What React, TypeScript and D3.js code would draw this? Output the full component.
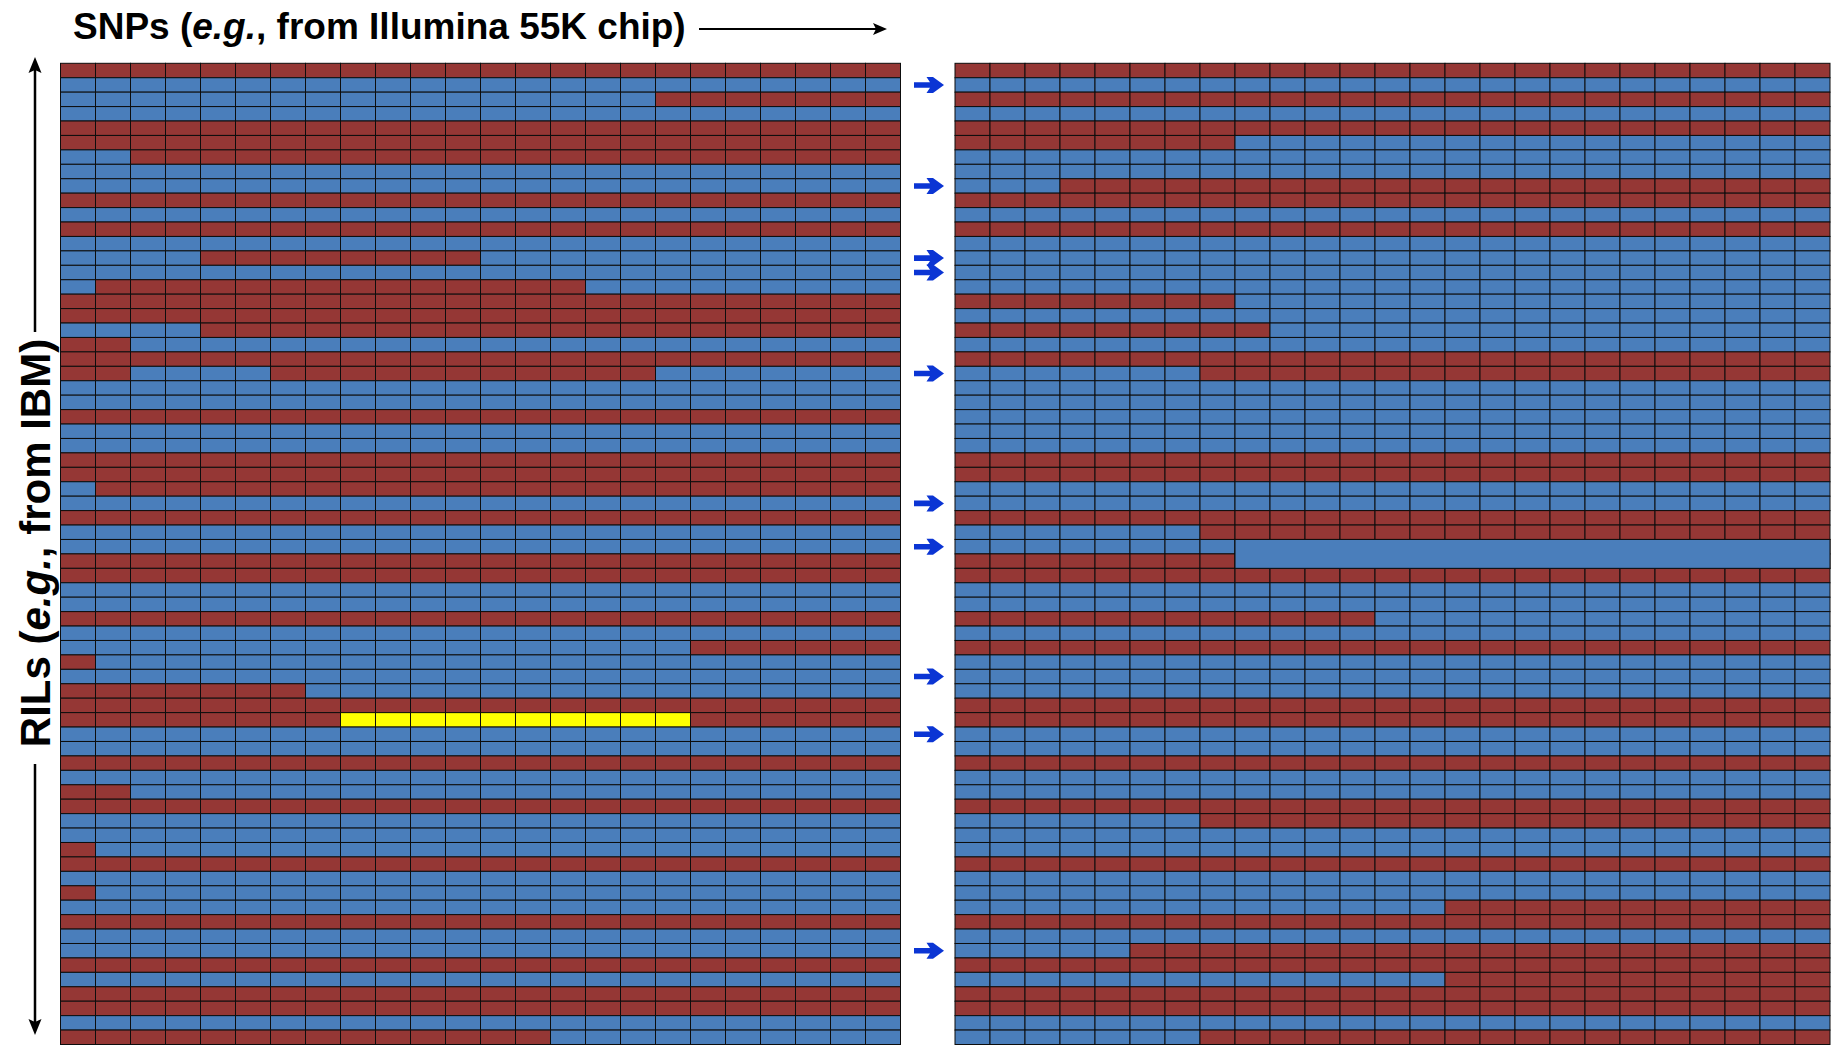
import React from "react";
import * as d3 from "d3";

// Genotype rows, run-length encoded: R = parent A (red), B = parent B (blue), Y = highlighted (yellow)
const leftRows: string[] = [
  "R24", "B24", "B17 R7", "B24", "R24", "R24", "B2 R22", "B24", "B24", "R24",
  "B24", "R24", "B24", "B4 R8 B12", "B24", "B1 R14 B9", "R24", "R24", "B4 R20", "R2 B22",
  "R24", "R2 B4 R11 B7", "B24", "B24", "R24", "B24", "B24", "R24", "R24", "B1 R23",
  "B24", "R24", "B24", "B24", "R24", "R24", "B24", "B24", "R24", "B24",
  "B18 R6", "R1 B23", "B24", "R7 B17", "R24", "R8 Y10 R6", "B24", "B24", "R24", "B24",
  "R2 B22", "R24", "B24", "B24", "R1 B23", "R24", "B24", "R1 B23", "B24", "R24",
  "B24", "B24", "R24", "B24", "R24", "R24", "B24", "R14 B10",
];

const rightRows: string[] = [
  "R25", "B25", "R25", "B25", "R25", "R8 B17", "B25", "B25", "B3 R22", "R25",
  "B25", "R25", "B25", "B25", "B25", "B25", "R8 B17", "B25", "R9 B16", "B25",
  "R25", "B7 R18", "B25", "B25", "B25", "B25", "B25", "R25", "R25", "B25",
  "B25", "R25", "B7 R18", "B25", "R8 B17", "R25", "B25", "B25", "R12 B13", "B25",
  "R25", "B25", "B25", "B25", "R25", "R25", "B25", "B25", "R25", "B25",
  "B25", "R25", "B7 R18", "B25", "B25", "R25", "B25", "B25", "B14 R11", "R25",
  "B25", "B5 R20", "R25", "B14 R11", "R25", "R25", "B25", "B7 R18",
];

// Rows that changed (marked with arrows between the grids)
const arrowRows: number[] = [1, 8, 13, 14, 21, 30, 33, 42, 46, 61];

// Merged block in the right grid
const mergedBlocks = [{ row: 33, rowSpan: 2, col: 8, colSpan: 17, code: "B" }];

const titleTop = ["SNPs (", "e.g.", ", from Illumina 55K chip)"];
const titleLeft = ["RILs (", "e.g.", ", from IBM)"];

const COLORS: Record<string, string> = { R: "#953735", B: "#4a7ebb", Y: "#ffff00" };

function decode(rle: string): string[] {
  const out: string[] = [];
  rle.split(" ").forEach((tok) => {
    const code = tok[0];
    const n = parseInt(tok.slice(1), 10);
    for (let i = 0; i < n; i++) out.push(code);
  });
  return out;
}

const W = 1837;
const H = 1046;
const FONT = "'Liberation Sans', Arial, Helvetica, sans-serif";

function Grid({ rows, x0, nCols, y, merged }: any) {
  const x = d3.scaleBand<number>().domain(d3.range(nCols)).range([x0, x0 + nCols * 35]);
  const cells: any[] = [];
  rows.forEach((r: string, ri: number) => {
    decode(r).forEach((code, ci) => {
      cells.push(
        <rect
          key={`${ri}-${ci}`}
          x={x(ci)}
          y={y(ri)}
          width={x.bandwidth()}
          height={y.bandwidth()}
          fill={COLORS[code]}
          stroke="#0d0d0d"
          strokeWidth={1}
        />
      );
    });
  });
  return (
    <g>
      {cells}
      {(merged || []).map((m: any, i: number) => (
        <rect
          key={"m" + i}
          x={x(m.col)}
          y={y(m.row)}
          width={x.bandwidth() * m.colSpan}
          height={y.bandwidth() * m.rowSpan}
          fill={COLORS[m.code]}
          stroke="#0d0d0d"
          strokeWidth={1}
        />
      ))}
    </g>
  );
}

export default function App() {
  const nRows = leftRows.length;
  const y = d3.scaleBand<number>().domain(d3.range(nRows)).range([63.3, 1044.5]);

  const arrowPath =
    "M914,-2.8 L930,-2.8 L926.5,-8 L933,-8 L944,0 L933,8 L926.5,8 L930,2.8 L914,2.8 Z";

  return (
    <svg
      width={W}
      height={H}
      viewBox={`0 0 ${W} ${H}`}
      style={{ position: "absolute", left: 0, top: 0, background: "#fff" }}
    >
      <rect x={0} y={0} width={W} height={H} fill="#fff" />
      {/* top label */}
      <text x={73} y={39} fontFamily={FONT} fontWeight="bold" fontSize={37} fill="#000">
        <tspan>{titleTop[0]}</tspan>
        <tspan fontStyle="italic">{titleTop[1]}</tspan>
        <tspan>{titleTop[2]}</tspan>
      </text>
      <line x1={699} y1={29} x2={876} y2={29} stroke="#000" strokeWidth={2.2} />
      <path d="M873,23 L887,29 L873,35 L876,29 Z" fill="#000" />

      {/* left label */}
      <line x1={35} y1={70} x2={35} y2={332} stroke="#000" strokeWidth={2.5} />
      <path d="M35,57 L41.5,73 L35,70 L28.5,73 Z" fill="#000" />
      <line x1={35} y1={764} x2={35} y2={1022} stroke="#000" strokeWidth={2.5} />
      <path d="M35,1035 L41.5,1019 L35,1022 L28.5,1019 Z" fill="#000" />
      <text
        transform="translate(35,543) rotate(-90)"
        textAnchor="middle"
        dy="0.36em"
        fontFamily={FONT}
        fontWeight="bold"
        fontSize={42}
        fill="#000"
      >
        <tspan>{titleLeft[0]}</tspan>
        <tspan fontStyle="italic">{titleLeft[1]}</tspan>
        <tspan>{titleLeft[2]}</tspan>
      </text>

      <Grid rows={leftRows} x0={60.5} nCols={24} y={y} />
      <Grid rows={rightRows} x0={955} nCols={25} y={y} merged={mergedBlocks} />

      {arrowRows.map((r) => (
        <path
          key={r}
          d={arrowPath}
          transform={`translate(0,${(y(r) as number) + y.bandwidth() / 2})`}
          fill="#0b35d4"
        />
      ))}
    </svg>
  );
}
